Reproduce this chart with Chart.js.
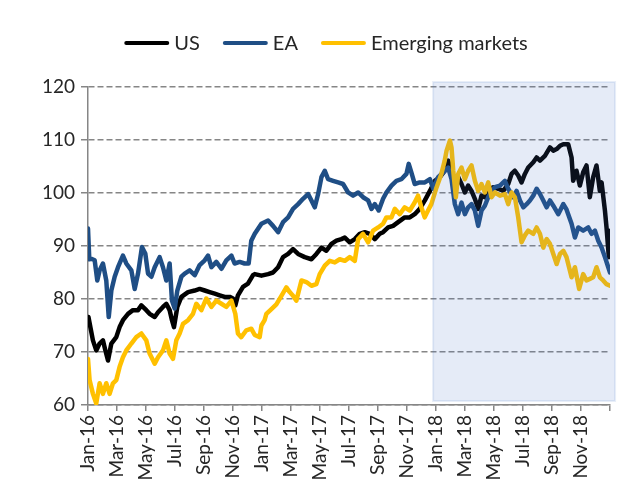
<!DOCTYPE html>
<html>
<head>
<meta charset="utf-8">
<script src="https://cdn.jsdelivr.net/npm/chart.js@4/dist/chart.umd.min.js"></script>
<style>
  body { margin: 0; background: #fff; }
</style>
</head>
<body>
<canvas id="chart" width="632" height="493"></canvas>
<script>
// x values are months since 1 Jan 2016
const xLabels = ['Jan-16', 'Mar-16', 'May-16', 'Jul-16', 'Sep-16', 'Nov-16',
    'Jan-17', 'Mar-17', 'May-17', 'Jul-17', 'Sep-17', 'Nov-17',
    'Jan-18', 'Mar-18', 'May-18', 'Jul-18', 'Sep-18', 'Nov-18'];

const usMonths = [0.03, 0.34, 0.57, 0.80, 1.03, 1.20, 1.38, 1.61, 1.95, 2.18, 2.41, 2.76, 3.10, 3.45, 3.68, 4.02, 4.25, 4.60, 4.83, 5.17,
    5.40, 5.63, 5.79, 5.93, 6.16, 6.44, 6.90, 7.36, 7.70, 8.05, 8.39, 8.74, 9.08, 9.43, 9.77, 10.00, 10.16, 10.34, 10.69, 11.03,
    11.38, 11.50, 11.96, 12.42, 12.76, 13.11, 13.45, 13.80, 14.14, 14.49, 14.95, 15.41, 15.75, 16.10, 16.44, 16.79, 17.13, 17.48, 17.71, 18.05,
    18.40, 18.74, 19.09, 19.43, 19.78, 20.12, 20.35, 20.70, 21.04, 21.39, 21.84, 22.19, 22.53, 22.88, 23.23, 23.58, 23.92, 24.27, 24.61, 24.84,
    25.07, 25.30, 25.53, 25.76, 25.99, 26.22, 26.45, 26.68, 26.91, 27.14, 27.37, 27.60, 27.95, 28.29, 28.64, 28.98, 29.21, 29.44, 29.67, 29.90,
    30.13, 30.36, 30.71, 30.94, 31.17, 31.51, 31.86, 32.09, 32.32, 32.55, 32.78, 33.12, 33.35, 33.46, 33.69, 33.92, 34.15, 34.38, 34.61, 34.84,
    35.07, 35.30, 35.42, 35.65, 35.76, 35.92, 36.00];
const usValues = [76.6, 72.2, 70.3, 71.6, 72.2, 70.3, 68.4, 71.6, 72.8, 74.7, 76, 77.2, 77.9, 77.9, 78.8, 77.9, 77.2, 76.6, 77.5, 78.5,
    79.1, 77.9, 76, 74.7, 78.5, 80.4, 81.3, 81.6, 81.9, 81.6, 81.3, 81, 80.7, 80.4, 80.4, 80.1, 78.8, 80.7, 82.3, 82.9,
    84.5, 84.7, 84.4, 84.7, 85, 86, 87.9, 88.5, 89.4, 88.5, 87.9, 87.5, 88.5, 89.7, 89.1, 90.4, 91, 91.3, 91.6, 90.7,
    91.3, 92.3, 92.6, 92.3, 91.3, 92.3, 92.6, 93.5, 93.8, 94.5, 95.4, 95.4, 96, 97, 98.6, 100.4, 102.3, 103, 104.2, 106.1,
    104.2, 101.7, 103, 101.7, 100.1, 101.4, 100.4, 98.9, 97, 99.5, 99.2, 100.4, 101.1, 100.8, 100.4, 101.7, 103.6, 104.2, 103.3, 102,
    103.6, 104.8, 105.8, 106.7, 106.1, 107, 108.6, 108, 108.3, 108.9, 109.2, 109.2, 106.7, 102.3, 104.2, 101.4, 103.9, 105.2, 99.2, 103,
    105.2, 100.4, 102, 96.7, 93.5, 87.9, 92.9];

const eaMonths = [0, 0.09, 0.23, 0.46, 0.64, 0.80, 1.03, 1.26, 1.43, 1.61, 1.84, 2.07, 2.41, 2.64, 2.99, 3.22, 3.45, 3.72, 3.95, 4.14,
    4.37, 4.60, 4.94, 5.17, 5.40, 5.63, 5.79, 5.98, 6.16, 6.44, 6.67, 7.01, 7.36, 7.70, 8.05, 8.28, 8.51, 8.85, 9.20, 9.54,
    9.89, 10.11, 10.46, 10.80, 11.08, 11.26, 11.50, 11.96, 12.42, 12.76, 13.11, 13.45, 13.80, 14.14, 14.49, 14.83, 15.18, 15.41, 15.64, 15.87,
    16.10, 16.33, 16.56, 16.90, 17.25, 17.59, 17.94, 18.28, 18.63, 18.97, 19.32, 19.55, 19.78, 20.05, 20.35, 20.58, 20.93, 21.27, 21.61, 21.96,
    22.12, 22.30, 22.53, 22.88, 23.23, 23.58, 23.81, 24.15, 24.50, 24.84, 25.07, 25.30, 25.53, 25.76, 25.99, 26.22, 26.45, 26.68, 26.91, 27.14,
    27.37, 27.60, 27.83, 28.06, 28.41, 28.75, 28.98, 29.33, 29.56, 29.79, 30.02, 30.25, 30.48, 30.71, 30.94, 31.17, 31.40, 31.63, 31.86, 32.09,
    32.43, 32.78, 33.00, 33.35, 33.58, 33.81, 34.15, 34.50, 34.73, 34.96, 35.19, 35.42, 35.65, 35.88, 36.00];
const eaValues = [93.3, 87.5, 87.6, 87.3, 83.5, 85.4, 86.7, 83.5, 76.6, 81.6, 84.2, 86, 88.2, 86.7, 85.4, 81.9, 84.8, 89.8, 88.6, 84.8,
    84.2, 86, 87.9, 86, 83.5, 86.7, 79.7, 78.2, 81.6, 84.2, 84.8, 85.4, 84.5, 86.4, 87.3, 88.2, 86, 87, 85.7, 87.3,
    88.2, 86.7, 87, 86.7, 86.7, 91, 92.3, 94.2, 94.8, 93.8, 92.6, 94.5, 95.4, 97, 97.9, 98.9, 99.8, 98.6, 97.3, 99.8,
    103, 104.2, 102.6, 102.3, 102, 101.7, 100.1, 99.5, 100.1, 99.2, 98.6, 97, 97.9, 96.7, 98.9, 100.1, 101.4, 102.3, 102.6, 103.6,
    105.5, 103.9, 101.7, 102, 102, 102.6, 100.8, 103, 103.9, 104.8, 102.6, 97.9, 96, 98.2, 96, 97.3, 97.9, 96.7, 93.8, 96.7,
    97.6, 99.2, 100.4, 101.1, 101.4, 102.3, 100.8, 99.2, 100.4, 98.6, 97.3, 97.9, 98.6, 99.5, 100.8, 99.8, 98.6, 97.3, 98.6, 97.6,
    96, 97.9, 96.9, 94.2, 91.6, 93.5, 92.9, 93.5, 92.3, 92.9, 91, 89.7, 87.9, 86, 85];

const emMonths = [0, 0.11, 0.34, 0.57, 0.80, 1.03, 1.26, 1.49, 1.72, 1.95, 2.18, 2.41, 2.64, 2.99, 3.33, 3.68, 4.02, 4.25, 4.60, 4.83,
    5.17, 5.40, 5.63, 5.86, 6.09, 6.32, 6.55, 6.90, 7.24, 7.47, 7.82, 8.16, 8.51, 8.85, 9.20, 9.54, 9.89, 10.16, 10.34, 10.57,
    10.92, 11.26, 11.50, 11.84, 11.96, 12.18, 12.30, 12.65, 12.99, 13.34, 13.68, 13.91, 14.14, 14.37, 14.72, 15.06, 15.41, 15.75, 15.98, 16.33,
    16.67, 17.02, 17.36, 17.71, 18.05, 18.40, 18.63, 18.97, 19.32, 19.66, 20.01, 20.35, 20.58, 20.93, 21.16, 21.50, 21.84, 22.19, 22.53, 22.76,
    22.99, 23.22, 23.45, 23.68, 24.03, 24.37, 24.60, 24.73, 24.96, 25.07, 25.19, 25.37, 25.53, 25.76, 25.99, 26.22, 26.45, 26.68, 26.91, 27.14,
    27.37, 27.60, 27.83, 28.06, 28.41, 28.75, 28.98, 29.21, 29.44, 29.67, 29.90, 30.13, 30.36, 30.71, 30.94, 31.17, 31.40, 31.63, 31.86, 32.09,
    32.32, 32.55, 32.78, 33.00, 33.35, 33.58, 33.87, 34.15, 34.38, 34.61, 34.84, 35.07, 35.30, 35.53, 35.76, 36.00];
const emValues = [68.7, 64.7, 62.1, 60.3, 64.1, 62.1, 64.1, 62.1, 64.1, 64.7, 67.2, 69, 70.3, 71.6, 72.8, 73.5, 72.2, 69.7, 67.8, 69,
    70.3, 72.2, 69.7, 68.7, 72.2, 73.5, 75.3, 76, 77.2, 79.1, 77.9, 80.1, 78.5, 79.7, 79.1, 78.5, 79.7, 77.2, 73.5, 72.8,
    74.1, 74.4, 73.2, 72.8, 75, 76, 77.2, 78.1, 79, 80.6, 82.2, 81.3, 80.6, 79.7, 83.5, 83.2, 82.5, 82.8, 84.7, 86.3,
    87.2, 86.9, 87.5, 87.2, 87.9, 87.2, 91.3, 92.3, 90.7, 92.9, 93.5, 94.2, 95.4, 95.4, 97, 96, 97.3, 96.7, 98.2, 99.5,
    97.3, 95.4, 96.7, 97.9, 101, 103.6, 106.1, 108, 109.9, 108.6, 104.2, 99.2, 103.6, 104.8, 102.6, 104.2, 105.2, 102.3, 100.4, 101.7,
    100.1, 102, 99.2, 100.1, 99.5, 99.8, 97.9, 100.1, 99.2, 95.4, 90.7, 92, 92.9, 92.3, 93.5, 92.3, 89.7, 91.3, 90.4, 88.5,
    86.6, 88.5, 89.1, 87.9, 84.1, 86, 81.9, 84.7, 83.5, 83.8, 84.1, 86, 84.1, 83.5, 82.8, 82.5];

// shaded period (2018)
const shadeStart = 23.8;
const shadeEnd = 36.35;

const FONT = 'Lato, "Noto Sans", sans-serif';
const TEXT = '#262626';
const GRID = '#868686';

const toPoints = (xs, ys) => xs.map((x, i) => ({x: x, y: ys[i]}));

// semi transparent box drawn over the lines, like the Excel shape
const shadePlugin = {
    id: 'shade',
    afterDatasetsDraw(chart) {
        const {ctx, chartArea, scales} = chart;
        const left = scales.x.getPixelForValue(shadeStart);
        const right = scales.x.getPixelForValue(shadeEnd);
        const top = chartArea.top - 5;
        const bottom = chartArea.bottom - 4;
        ctx.save();
        ctx.fillStyle = 'rgba(68, 114, 196, 0.14)';
        ctx.fillRect(left, top, right - left, bottom - top);
        ctx.strokeStyle = 'rgba(68, 114, 196, 0.12)';
        ctx.lineWidth = 2;
        ctx.strokeRect(left, top, right - left, bottom - top);
        ctx.restore();
    }
};

// legend with line samples, centred a bit right of the canvas middle
const lineLegend = {
    id: 'lineLegend',
    afterDraw(chart) {
        const ctx = chart.ctx;
        ctx.save();
        ctx.font = '20px ' + FONT;
        const lineLen = 45, gap = 5, spacing = 23;
        const items = chart.data.datasets.map(ds => ({
            label: ds.label,
            color: ds.borderColor,
            w: ctx.measureText(ds.label).width
        }));
        const total = items.reduce((s, it) => s + lineLen + gap + it.w, 0) + spacing * (items.length - 1);
        let x = 326 - total / 2;
        const y = 43;
        items.forEach(it => {
            ctx.strokeStyle = it.color;
            ctx.lineWidth = 4;
            ctx.lineCap = 'round';
            ctx.beginPath();
            ctx.moveTo(x + 2, y);
            ctx.lineTo(x + lineLen - 2, y);
            ctx.stroke();
            ctx.fillStyle = TEXT;
            ctx.textBaseline = 'middle';
            ctx.fillText(it.label, x + lineLen + gap, y + 1);
            x += lineLen + gap + it.w + spacing;
        });
        ctx.restore();
    }
};

const ctx = document.getElementById('chart').getContext('2d');
new Chart(ctx, {
    type: 'line',
    data: {
        datasets: [{
            label: 'US',
            data: toPoints(usMonths, usValues),
            borderColor: '#000000',
            backgroundColor: '#000000',
            order: 2
        }, {
            label: 'EA',
            data: toPoints(eaMonths, eaValues),
            borderColor: '#1F4E85',
            backgroundColor: '#1F4E85',
            order: 1
        }, {
            label: 'Emerging markets',
            data: toPoints(emMonths, emValues),
            borderColor: '#FFC000',
            backgroundColor: '#FFC000',
            order: 0
        }]
    },
    options: {
        responsive: false,
        animation: false,
        layout: {
            padding: {top: 87, right: 22, left: 0, bottom: 0}
        },
        elements: {
            line: {borderWidth: 4.5, tension: 0, borderJoinStyle: 'round', borderCapStyle: 'round'},
            point: {radius: 0}
        },
        plugins: {
            tooltip: {enabled: false},
            legend: {display: false}
        },
        scales: {
            x: {
                type: 'linear',
                min: 0,
                max: 36,
                afterBuildTicks: scale => {
                    scale.ticks = [];
                    for (let v = 0; v <= 36; v += 2) scale.ticks.push({value: v});
                },
                afterFit: scale => {
                    scale.height = 88;
                    scale.paddingLeft = 0;
                    scale.paddingRight = 0;
                },
                ticks: {
                    autoSkip: false,
                    minRotation: 90,
                    maxRotation: 90,
                    padding: 4,
                    color: TEXT,
                    font: {family: FONT, size: 19},
                    callback: (v, i) => xLabels[i] || ''
                },
                grid: {
                    drawOnChartArea: false,
                    drawTicks: true,
                    tickLength: 6,
                    color: GRID,
                    lineWidth: 1.5
                },
                border: {color: GRID, width: 1.5}
            },
            y: {
                min: 60,
                max: 120,
                afterFit: scale => { scale.width = 88; },
                ticks: {
                    stepSize: 10,
                    padding: 6,
                    color: TEXT,
                    font: {family: FONT, size: 19}
                },
                grid: {
                    color: GRID,
                    lineWidth: 1.5,
                    tickLength: 7,
                    tickBorderDash: []
                },
                border: {color: GRID, width: 1.5, dash: [6, 3]}
            }
        }
    },
    plugins: [shadePlugin, lineLegend]
});
</script>
</body>
</html>
